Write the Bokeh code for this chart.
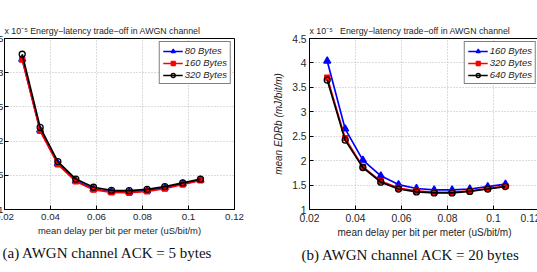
from bokeh.plotting import figure
from bokeh.models import (Range1d, FixedTicker, CustomJSTickFormatter, Legend,
                          LegendItem, Title)
from bokeh.layouts import row
from bokeh.embed import file_html
from bokeh.resources import INLINE

# mean delay per bit per meter (uS/bit/m)
delay = [0.0277, 0.0355, 0.0432, 0.0510, 0.0587, 0.0665,
         0.0742, 0.0820, 0.0897, 0.0975, 0.1052]

# mean EDRb (mJ/bit/m), in units of 1e-5 -- ACK = 5 bytes
ack5_labels = ["80 Bytes", "160 Bytes", "320 Bytes"]
ack5_80 = [3.20, 2.16, 1.67, 1.42, 1.30, 1.26, 1.255, 1.275, 1.315, 1.375, 1.43]
ack5_160 = [3.19, 2.15, 1.66, 1.41, 1.29, 1.25, 1.245, 1.265, 1.305, 1.365, 1.425]
ack5_320 = [3.27, 2.20, 1.70, 1.445, 1.325, 1.28, 1.275, 1.295, 1.335, 1.39, 1.445]

# mean EDRb (mJ/bit/m), in units of 1e-5 -- ACK = 20 bytes
ack20_labels = ["160 Bytes", "320 Bytes", "640 Bytes"]
ack20_160 = [4.04, 2.65, 2.01, 1.69, 1.51, 1.43, 1.40, 1.40, 1.42, 1.47, 1.52]
ack20_320 = [3.70, 2.46, 1.87, 1.58, 1.44, 1.38, 1.35, 1.35, 1.38, 1.43, 1.48]
ack20_640 = [3.65, 2.42, 1.86, 1.56, 1.42, 1.36, 1.34, 1.34, 1.37, 1.42, 1.47]

x_ticks = [0.02, 0.04, 0.06, 0.08, 0.1, 0.12]
ack5_yticks = [1, 1.5, 2, 2.5, 3, 3.5]
ack20_yticks = [1, 1.5, 2, 2.5, 3, 3.5, 4, 4.5]

multiplier = "x 10\u207b\u2075"
title_text = "Energy\u2212latency trade\u2212off in AWGN channel"
xlabel_text = "mean delay per bit per meter (uS/bit/m)"
ylabel_text = "mean EDRb (mJ/bit/m)"

SANS = "Liberation Sans"
SERIF = "Liberation Serif"
TXT = "#262626"

styles = [
    dict(color="#0000ff", marker="triangle", size=7, fill="#0000ff"),
    dict(color="#ff0000", marker="square", size=5, fill="#ff0000"),
    dict(color="#000000", marker="circle", size=6, fill=None),
]


def panel(series, labels, yticks, caption, cap_offset, fs, gap, with_ylabel,
          ylab_standoff, border_left, border_right):
    p = figure(frame_width=230, frame_height=171,
               x_range=Range1d(x_ticks[0], x_ticks[-1]),
               y_range=Range1d(yticks[0], yticks[-1]),
               output_backend="svg", toolbar_location=None,
               min_border_left=border_left, min_border_right=border_right,
               min_border_top=38, min_border_bottom=63,
               background_fill_color="white", border_fill_color="white")
    p.outline_line_color = "black"
    p.outline_line_width = 1

    fmt = CustomJSTickFormatter(code="return tick.toString();")
    p.xaxis.ticker = FixedTicker(ticks=x_ticks)
    p.yaxis.ticker = FixedTicker(ticks=yticks)
    p.xaxis.formatter = fmt
    p.yaxis.formatter = fmt
    for ax in (p.xaxis, p.yaxis):
        ax.major_tick_in = 4
        ax.major_tick_out = 0
        ax.minor_tick_in = 0
        ax.minor_tick_out = 0
        ax.axis_line_color = "black"
        ax.major_tick_line_color = "black"
        ax.major_label_text_font = SANS
        ax.major_label_text_font_size = f"{fs + 0.3}px"
        ax.major_label_text_color = TXT
        ax.axis_label_text_font = SANS
        ax.axis_label_text_font_size = f"{fs}px"
        ax.axis_label_text_color = TXT
    p.xaxis.major_label_standoff = 4
    p.yaxis.major_label_standoff = ylab_standoff
    p.xaxis.axis_label = xlabel_text
    p.xaxis.axis_label_standoff = 2
    p.xaxis.axis_label_text_font_style = "normal"
    if with_ylabel:
        p.yaxis.axis_label = ylabel_text
        p.yaxis.axis_label_standoff = 5
        p.yaxis.axis_label_text_font_style = "italic"

    for g in (p.xgrid, p.ygrid):
        g.grid_line_color = "#b8b8b8"
        g.grid_line_dash = "1 2"
        g.grid_line_width = 1
    p.xgrid.ticker = FixedTicker(ticks=x_ticks)
    p.ygrid.ticker = FixedTicker(ticks=yticks)

    items = []
    for vals, lab, st in zip(series, labels, styles):
        ln = p.line(delay, vals, line_color=st["color"], line_width=1.7)
        sc = p.scatter(delay, vals, marker=st["marker"], size=st["size"],
                       line_color=st["color"], line_width=1.3,
                       fill_color=st["fill"])
        items.append(LegendItem(label=lab, renderers=[ln, sc]))

    leg = Legend(items=items, location="top_right",
                 border_line_color="black", border_line_width=1,
                 background_fill_color="white", background_fill_alpha=1,
                 label_text_font=SANS, label_text_font_style="italic",
                 label_text_font_size="9.5px", label_text_color=TXT,
                 glyph_width=20, glyph_height=10, label_height=10,
                 label_standoff=2, spacing=1, padding=3, margin=3)
    p.add_layout(leg)

    # exponent of the y values sits at the top-left corner of the frame,
    # followed by the chart title
    p.title = Title(text=multiplier + "\u00a0" * gap + title_text,
                    align="left", offset=0, text_font=SANS,
                    text_font_size="8.8px", text_font_style="normal",
                    text_color=TXT, standoff=5)

    p.add_layout(Title(text=caption, align="left", offset=cap_offset,
                       text_font=SERIF, text_font_size="15px",
                       text_font_style="normal", text_color="#111111",
                       standoff=8), "below")
    return p


p1 = panel([ack5_80, ack5_160, ack5_320], ack5_labels, ack5_yticks,
           "(a) AWGN channel ACK = 5 bytes", -2, 9.4, 1, False, 1, 0, 36)
p1.margin = (0, 0, 0, -13)
p2 = panel([ack20_160, ack20_320, ack20_640], ack20_labels, ack20_yticks,
           "(b) AWGN channel ACK = 20 bytes", -8, 10, 3, True, 3, 38, 1)

layout = row(p1, p2)
open("out.html", "w").write(file_html(layout, INLINE))
